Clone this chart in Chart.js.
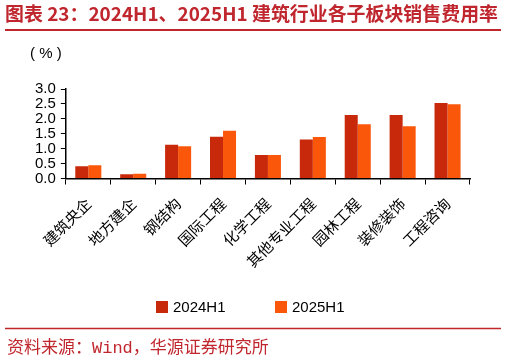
<!DOCTYPE html>
<html lang="zh">
  <head>
    <meta charset="UTF-8" />
    <script src="https://cdn.jsdelivr.net/npm/chart.js@4.4.0/dist/chart.umd.min.js"></script>
    <title>销售费用率</title>
    <style>
      body {
        margin: 0;
        padding: 0;
        background: #fff;
      }
      .wrap {
        position: relative;
        width: 507px;
        height: 362px;
      }
    </style>
  </head>
  <body>
    <div class="wrap">
      <canvas id="chart"></canvas>
    </div>
    <script>
      const categories = ['建筑央企', '地方建企', '钢结构', '国际工程', '化学工程', '其他专业工程', '园林工程', '装修装饰', '工程咨询']
      const seriesNames = ['2024H1', '2025H1']
      const values2024 = [0.41, 0.14, 1.13, 1.40, 0.79, 1.31, 2.13, 2.13, 2.53]
      const values2025 = [0.44, 0.16, 1.08, 1.60, 0.79, 1.39, 1.82, 1.75, 2.49]
      const yTicks = [0, 0.5, 1.0, 1.5, 2.0, 2.5, 3.0]

      const RED = '#C0262D'
      const cjk = '"Noto Sans CJK SC", sans-serif'
      const sans = '"Liberation Sans", sans-serif'

      const decor = {
        id: 'decor',
        afterDraw(chart) {
          const ctx = chart.ctx
          ctx.save()
          // title
          ctx.fillStyle = RED
          ctx.font = 'bold 19px ' + cjk
          ctx.textBaseline = 'middle'
          ctx.textAlign = 'left'
          ctx.fillText('图表 23：2024H1、2025H1 建筑行业各子板块销售费用率', 5, 14, 493)
          ctx.strokeStyle = RED
          ctx.lineWidth = 2
          ctx.beginPath()
          ctx.moveTo(5, 30)
          ctx.lineTo(501, 30)
          ctx.stroke()
          // footer
          ctx.lineWidth = 1.5
          ctx.beginPath()
          ctx.moveTo(5, 328.5)
          ctx.lineTo(501, 328.5)
          ctx.stroke()
          ctx.font = '17px "Liberation Mono", ' + cjk
          ctx.fillText('资料来源：Wind，华源证券研究所', 7, 348)
          // unit
          ctx.fillStyle = '#000'
          ctx.font = '15px ' + sans
          ctx.fillText('( % )', 30, 54)
          // legend
          const legendX = [156, 275]
          chart.data.datasets.forEach((ds, i) => {
            ctx.fillStyle = ds.backgroundColor
            ctx.fillRect(legendX[i], 301, 12, 12)
            ctx.fillStyle = '#000'
            ctx.font = '15px ' + sans
            ctx.fillText(ds.label, legendX[i] + 17, 307.5)
          })
          ctx.restore()
        },
      }

      new Chart(document.getElementById('chart'), {
        type: 'bar',
        data: {
          labels: categories,
          datasets: [
            { label: seriesNames[0], data: values2024, backgroundColor: '#C8290A' },
            { label: seriesNames[1], data: values2025, backgroundColor: '#FA570A' },
          ],
        },
        options: {
          responsive: true,
          maintainAspectRatio: false,
          animation: false,
          layout: { padding: { top: 89, left: 30, right: 37, bottom: 94 } },
          datasets: {
            bar: { categoryPercentage: 0.58, barPercentage: 1 },
          },
          plugins: {
            title: { display: false },
            tooltip: { enabled: false },
            legend: { display: false },
          },
          scales: {
            x: {
              grid: { drawOnChartArea: false, color: '#000', tickLength: 6, offset: true },
              border: { color: '#000', width: 1.5 },
              ticks: {
                color: '#000',
                maxRotation: 45,
                minRotation: 45,
                padding: 10,
                font: { size: 15, family: cjk },
              },
            },
            y: {
              min: 0,
              max: 3,
              afterBuildTicks: (axis) => {
                axis.ticks = yTicks.map((v) => ({ value: v }))
              },
              grid: { drawOnChartArea: false, color: '#000', tickLength: 5 },
              border: { color: '#000', width: 1.5 },
              ticks: {
                color: '#000',
                padding: 5,
                autoSkip: false,
                font: { size: 15, family: sans },
                callback: (v) => Number(v).toFixed(1),
              },
            },
          },
        },
        plugins: [decor],
      })
    </script>
  </body>
</html>
